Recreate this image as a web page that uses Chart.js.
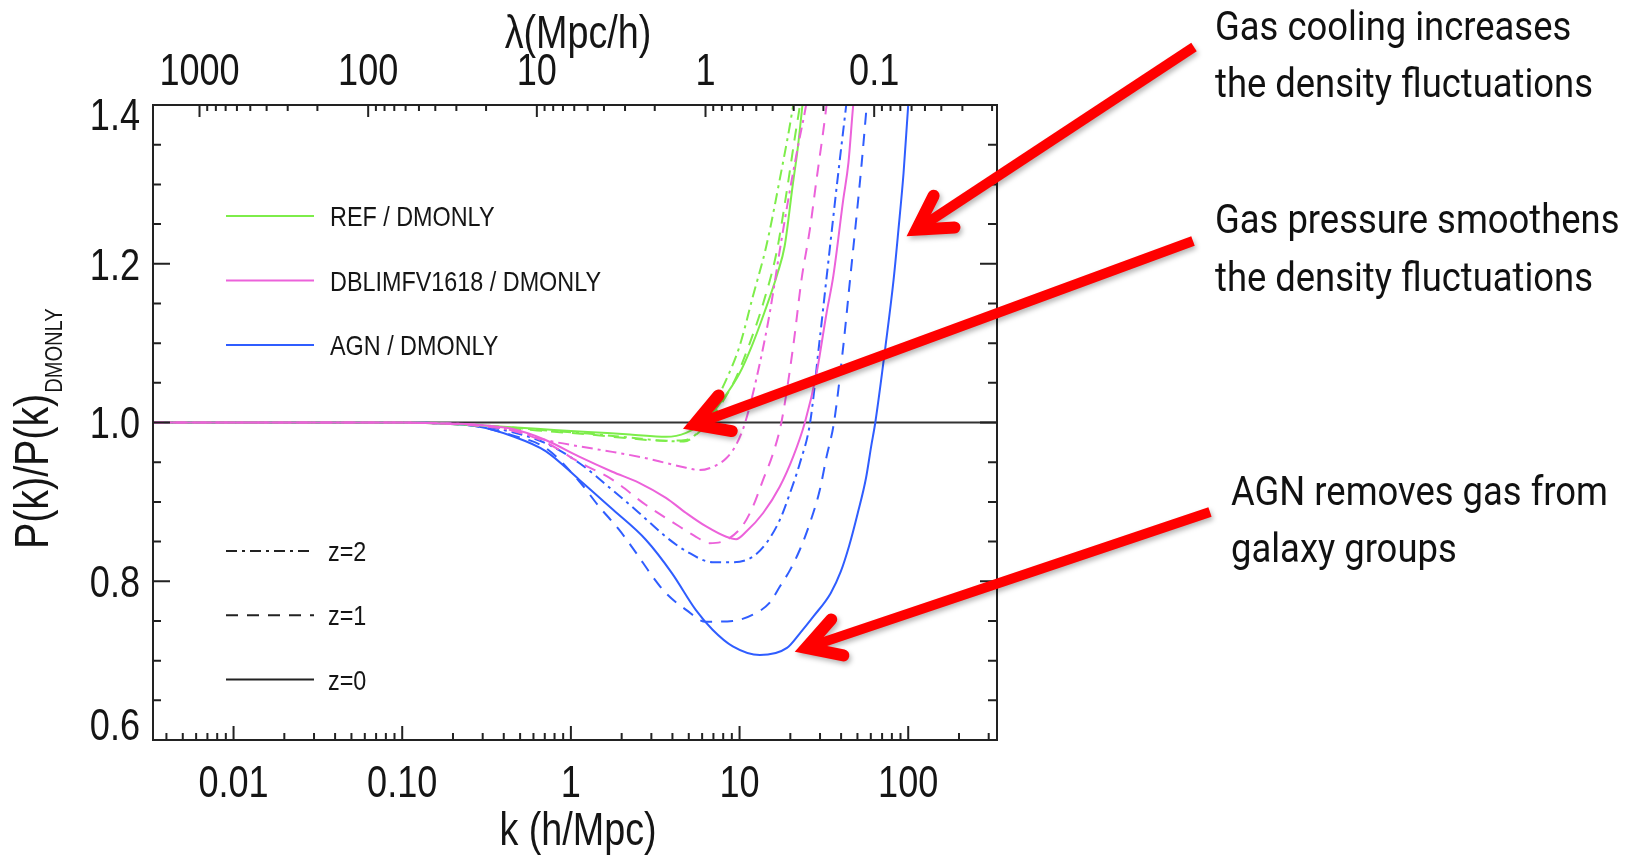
<!DOCTYPE html>
<html>
<head>
<meta charset="utf-8">
<title>P(k)/P(k) DMONLY</title>
<script src="https://cdn.jsdelivr.net/npm/chart.js@4.4.1/dist/chart.umd.min.js"></script>
<style>
  html, body { margin: 0; padding: 0; background: #ffffff; }
  canvas { display: block; }
</style>
</head>
<body>
<canvas id="pk" width="1629" height="859"></canvas>
<script>
// ---- power-spectrum ratios, k in h/Mpc ----
const kRefZ0 = [0.0033, 0.1, 0.158, 0.316, 0.631, 1.26, 2.24, 3.66, 4.82, 6.34, 7.96, 10.0, 11.8, 14.0, 16.8, 18.5, 20.6, 22.2, 23.6, 25.0];
const ratioRefZ0 = [1.000, 1.000, 0.999, 0.996, 0.992, 0.988, 0.985, 0.982, 0.987, 1.003, 1.029, 1.062, 1.096, 1.138, 1.188, 1.222, 1.297, 1.348, 1.400, 1.450];
const kRefZ1 = [0.0033, 0.1, 0.158, 0.316, 0.631, 1.26, 2.24, 3.55, 4.79, 6.03, 7.59, 9.45, 11.5, 13.8, 16.6, 19.0, 21.3, 22.8, 24.4];
const ratioRefZ1 = [1.000, 1.000, 0.999, 0.995, 0.990, 0.985, 0.980, 0.977, 0.978, 0.992, 1.020, 1.055, 1.100, 1.150, 1.215, 1.290, 1.360, 1.400, 1.450];
const kRefZ2 = [0.0033, 0.1, 0.158, 0.316, 0.631, 1.26, 2.24, 3.55, 4.68, 5.75, 6.93, 8.34, 10.0, 12.0, 14.4, 17.3, 20.8, 22.4];
const ratioRefZ2 = [1.000, 1.000, 0.999, 0.996, 0.991, 0.986, 0.981, 0.977, 0.976, 0.990, 1.020, 1.054, 1.096, 1.159, 1.222, 1.306, 1.400, 1.450];

const kDblZ0 = [0.0033, 0.0316, 0.1, 0.158, 0.282, 0.447, 0.708, 1.12, 1.76, 2.54, 3.66, 4.82, 6.34, 8.34, 9.55, 11.0, 13.8, 17.3, 20.8, 24.4, 28.6, 32.8, 36.0, 41.2, 44.2, 47.2, 50.1];
const ratioDblZ0 = [1.000, 1.000, 1.000, 0.999, 0.997, 0.992, 0.978, 0.957, 0.938, 0.924, 0.905, 0.886, 0.869, 0.856, 0.853, 0.863, 0.886, 0.919, 0.957, 1.000, 1.062, 1.138, 1.185, 1.281, 1.327, 1.400, 1.450];
const kDblZ1 = [0.0033, 0.0316, 0.1, 0.158, 0.282, 0.447, 0.708, 1.12, 1.76, 2.79, 4.40, 5.52, 6.62, 8.34, 10.5, 12.0, 13.8, 15.8, 17.7, 20.8, 23.3, 26.1, 28.6, 32.8, 34.7];
const ratioDblZ1 = [1.000, 1.000, 1.000, 0.999, 0.996, 0.990, 0.975, 0.950, 0.928, 0.896, 0.869, 0.856, 0.848, 0.852, 0.871, 0.894, 0.928, 0.961, 1.000, 1.096, 1.180, 1.243, 1.306, 1.400, 1.450];
const kDblZ2 = [0.0033, 0.0316, 0.1, 0.158, 0.282, 0.447, 0.708, 1.12, 1.76, 2.79, 3.66, 4.82, 5.78, 6.93, 8.34, 9.55, 10.8, 13.2, 15.1, 17.2, 19.6, 22.3, 24.8, 26.9];
const ratioDblZ2 = [1.000, 1.000, 1.000, 0.999, 0.997, 0.990, 0.978, 0.970, 0.963, 0.955, 0.949, 0.943, 0.940, 0.944, 0.955, 0.972, 1.000, 1.075, 1.138, 1.213, 1.285, 1.350, 1.400, 1.450];

const kAgnZ0 = [0.0033, 0.0316, 0.1, 0.158, 0.282, 0.447, 0.708, 1.12, 1.78, 2.79, 3.98, 5.50, 6.92, 9.12, 13.2, 19.1, 22.9, 27.5, 34.7, 39.8, 44.7, 50.1, 56.2, 60.3, 63.8, 73.3, 81.9, 87.5, 93.8, 100, 107];
const ratioAgnZ0 = [1.000, 1.000, 1.000, 0.999, 0.995, 0.983, 0.964, 0.928, 0.890, 0.852, 0.810, 0.764, 0.739, 0.718, 0.707, 0.716, 0.735, 0.756, 0.785, 0.812, 0.845, 0.885, 0.930, 0.970, 1.000, 1.096, 1.180, 1.243, 1.314, 1.400, 1.480];
const kAgnZ1 = [0.0033, 0.0316, 0.1, 0.158, 0.282, 0.447, 0.708, 1.12, 1.47, 1.93, 2.43, 3.05, 3.66, 4.82, 6.31, 9.12, 12.0, 15.1, 17.3, 19.9, 22.8, 26.1, 29.9, 32.8, 36.3, 41.2, 45.2, 49.6, 53.0, 56.8, 60.3];
const ratioAgnZ1 = [1.000, 1.000, 1.000, 0.999, 0.995, 0.984, 0.968, 0.926, 0.894, 0.865, 0.836, 0.806, 0.785, 0.764, 0.749, 0.750, 0.758, 0.773, 0.793, 0.814, 0.840, 0.873, 0.915, 0.957, 1.000, 1.096, 1.180, 1.264, 1.327, 1.400, 1.460];
const kAgnZ2 = [0.0033, 0.0316, 0.1, 0.158, 0.282, 0.447, 0.708, 1.12, 1.76, 2.54, 3.66, 4.82, 6.93, 9.12, 12.0, 14.4, 17.3, 19.9, 22.8, 26.2, 29.7, 33.5, 37.8, 42.9, 45.7];
const ratioAgnZ2 = [1.000, 1.000, 1.000, 0.999, 0.996, 0.988, 0.974, 0.949, 0.915, 0.886, 0.856, 0.838, 0.824, 0.824, 0.831, 0.848, 0.877, 0.911, 0.949, 1.000, 1.100, 1.200, 1.300, 1.400, 1.450];

// ---- legend entries ----
const modelLabels = ['REF / DMONLY', 'DBLIMFV1618 / DMONLY', 'AGN / DMONLY'];
const redshiftLabels = ['z=2', 'z=1', 'z=0'];

// ---- axis ticks ----
const kMajorTicks = [0.01, 0.1, 1, 10, 100];
const kTickLabels = ['0.01', '0.10', '1', '10', '100'];
const lambdaMajorTicks = [1000, 100, 10, 1, 0.1];
const lambdaTickLabels = ['1000', '100', '10', '1', '0.1'];
const ratioMajorTicks = [0.6, 0.8, 1.0, 1.2, 1.4];
const ratioTickLabels = ['0.6', '0.8', '1.0', '1.2', '1.4'];

// ---- annotations ----
const notes = [
  { lines: ['Gas cooling increases', 'the density fluctuations'], text: [1215, 40, 57], tail: [1194, 47], tipK: 100, tipRatio: 1.236 },
  { lines: ['Gas pressure smoothens', 'the density fluctuations'], text: [1215, 233, 58], tail: [1193, 241], tipK: 4.74, tipRatio: 0.993 },
  { lines: ['AGN removes gas from', 'galaxy groups'], text: [1231, 505, 57], tail: [1210, 512], tipK: 21.8, tipRatio: 0.712 }
];

// ---- styling ----
const K_MIN = 0.00333, K_MAX = 336;
const modelColors = ['#7ded4a', '#ec62da', '#2f5dff'];
const redshiftDashes = [[11, 5, 3, 5], [12, 9], []];
const AXIS_FONT = "'Liberation Sans', Arial, sans-serif";
const NOTE_FONT = "Roboto, 'Liberation Sans', sans-serif";
const SQUEEZE = 0.82;
const INK = '#151515';

const curves = [
  [kRefZ2, ratioRefZ2, 0, 0], [kRefZ1, ratioRefZ1, 0, 1], [kRefZ0, ratioRefZ0, 0, 2],
  [kDblZ2, ratioDblZ2, 1, 0], [kDblZ1, ratioDblZ1, 1, 1], [kDblZ0, ratioDblZ0, 1, 2],
  [kAgnZ2, ratioAgnZ2, 2, 0], [kAgnZ1, ratioAgnZ1, 2, 1], [kAgnZ0, ratioAgnZ0, 2, 2]
];
const drawOrder = [2, 1, 3]; // magenta on top, then green, then blue

const datasets = curves.map(([ks, rs, m, z]) => ({
  label: modelLabels[m] + ' ' + redshiftLabels[z],
  data: ks.map((k, i) => ({ x: k, y: rs[i] })),
  borderColor: modelColors[m],
  borderWidth: 2,
  borderDash: redshiftDashes[z],
  pointRadius: 0,
  fill: false,
  cubicInterpolationMode: 'monotone',
  order: drawOrder[m],
  clip: 0
}));
datasets.push({
  label: 'unity',
  data: [{ x: K_MIN, y: 1 }, { x: K_MAX, y: 1 }],
  borderColor: '#333333',
  borderWidth: 2,
  pointRadius: 0,
  fill: false,
  order: 10,
  clip: 0
});

function logTicks(min, max, majors) {
  const out = [];
  for (let e = Math.floor(Math.log10(min)) - 1; e <= Math.ceil(Math.log10(max)); e++) {
    for (let m = 1; m <= 9; m++) {
      const v = m * Math.pow(10, e);
      if (v >= min * 0.9999 && v <= max * 1.0001) {
        out.push({ value: v, major: majors.some(t => Math.abs(t - v) / t < 1e-6) });
      }
    }
  }
  return out;
}

function labelFor(value, majors, labels) {
  const i = majors.findIndex(t => Math.abs(t - value) / Math.abs(t) < 1e-6);
  return i < 0 ? '' : labels[i];
}

function drawText(ctx, text, x, y, size, opts = {}) {
  const family = opts.family || AXIS_FONT;
  const squeeze = opts.squeeze || SQUEEZE;
  ctx.save();
  ctx.font = size + 'px ' + family;
  ctx.fillStyle = opts.color || INK;
  ctx.textAlign = 'left';
  ctx.textBaseline = 'alphabetic';
  const w = ctx.measureText(text).width * squeeze;
  let x0 = x;
  if (opts.align === 'center') x0 = x - w / 2;
  else if (opts.align === 'right') x0 = x - w;
  ctx.translate(x0, y);
  ctx.scale(squeeze, 1);
  ctx.fillText(text, 0, 0);
  ctx.restore();
  return w;
}

function drawArrow(ctx, tail, tip) {
  const dx = tail[0] - tip[0], dy = tail[1] - tip[1];
  const len = Math.hypot(dx, dy);
  const ux = dx / len, uy = dy / len;
  const ang = Math.atan2(uy, ux);
  const vx = tip[0] + ux * 10, vy = tip[1] + uy * 10;
  const spread = 30 * Math.PI / 180, arm = 38;
  const a1 = [vx + Math.cos(ang + spread) * arm, vy + Math.sin(ang + spread) * arm];
  const a2 = [vx + Math.cos(ang - spread) * arm, vy + Math.sin(ang - spread) * arm];
  const paint = (color, ox, oy) => {
    ctx.strokeStyle = color;
    ctx.lineWidth = 10; ctx.lineCap = 'butt';
    ctx.beginPath();
    ctx.moveTo(tail[0] + ox, tail[1] + oy);
    ctx.lineTo(vx + ux * 4 + ox, vy + uy * 4 + oy);
    ctx.stroke();
    ctx.lineWidth = 12; ctx.lineCap = 'round'; ctx.lineJoin = 'miter';
    ctx.beginPath();
    ctx.moveTo(a1[0] + ox, a1[1] + oy);
    ctx.lineTo(vx + ox, vy + oy);
    ctx.lineTo(a2[0] + ox, a2[1] + oy);
    ctx.stroke();
  };
  ctx.save();
  ctx.filter = 'blur(2.5px)';
  paint('rgba(0,0,0,0.28)', 2, 3);
  ctx.restore();
  ctx.save();
  paint('#ff0000', 0, 0);
  ctx.restore();
}

const decorations = {
  id: 'decorations',
  afterDraw(chart) {
    const ctx = chart.ctx;
    const { left, right, top, bottom } = chart.chartArea;
    const xs = chart.scales.x, ls = chart.scales.lambda, ys = chart.scales.y;

    // frame
    ctx.save();
    ctx.strokeStyle = '#222222';
    ctx.lineWidth = 2;
    ctx.strokeRect(left, top, right - left, bottom - top);

    // tick marks (inward)
    ctx.beginPath();
    xs.ticks.forEach(t => {
      const px = xs.getPixelForValue(t.value);
      const l = t.major ? 14 : 7;
      ctx.moveTo(px, bottom); ctx.lineTo(px, bottom - l);
    });
    ls.ticks.forEach(t => {
      const px = ls.getPixelForValue(t.value);
      const l = t.major ? 12 : 6;
      ctx.moveTo(px, top); ctx.lineTo(px, top + l);
    });
    ys.ticks.forEach(t => {
      const py = ys.getPixelForValue(t.value);
      ctx.moveTo(left, py); ctx.lineTo(left + (t.major ? 17 : 8), py);
      ctx.moveTo(right, py); ctx.lineTo(right - (t.major ? 17 : 9), py);
    });
    ctx.stroke();
    ctx.restore();

    // tick labels
    const cap = 0.716 * 44;
    xs.ticks.filter(t => t.major).forEach(t => {
      drawText(ctx, labelFor(t.value, kMajorTicks, kTickLabels), xs.getPixelForValue(t.value), 797, 44, { align: 'center' });
    });
    ls.ticks.filter(t => t.major).forEach(t => {
      drawText(ctx, labelFor(t.value, lambdaMajorTicks, lambdaTickLabels), ls.getPixelForValue(t.value), 85, 44, { align: 'center' });
    });
    ys.ticks.filter(t => t.major).forEach(t => {
      const py = ys.getPixelForValue(t.value);
      const cy = Math.min(Math.max(py, top + 9), bottom - 16);
      drawText(ctx, labelFor(t.value, ratioMajorTicks, ratioTickLabels), left - 13, cy + cap / 2, 44, { align: 'right' });
    });

    // axis titles
    const cx = (left + right) / 2 + 3;
    drawText(ctx, 'k (h/Mpc)', cx, 845, 46, { align: 'center' });
    drawText(ctx, 'λ(Mpc/h)', cx, 48, 46, { align: 'center' });
    ctx.save();
    ctx.translate(48, 549);
    ctx.rotate(-Math.PI / 2);
    const wMain = drawText(ctx, 'P(k)/P(k)', 0, 0, 48);
    drawText(ctx, 'DMONLY', wMain + 1, 14, 24.5);
    ctx.restore();

    // legend: models
    ctx.save();
    ctx.lineWidth = 2;
    modelLabels.forEach((name, i) => {
      const y = 216 + i * 64.5;
      ctx.strokeStyle = modelColors[i];
      ctx.setLineDash([]);
      ctx.beginPath(); ctx.moveTo(226, y); ctx.lineTo(314, y); ctx.stroke();
      drawText(ctx, name, 330, y + 10, 28.5);
    });
    // legend: redshifts
    redshiftLabels.forEach((name, i) => {
      const y = 551 + i * 64.3;
      ctx.strokeStyle = '#222222';
      ctx.setLineDash(redshiftDashes[i]);
      ctx.beginPath(); ctx.moveTo(226, y); ctx.lineTo(314, y); ctx.stroke();
      drawText(ctx, name, 328, y + 10, 28.5);
    });
    ctx.setLineDash([]);
    ctx.restore();

    // annotations with arrows
    ctx.save();
    ctx.font = '41px ' + NOTE_FONT;
    const noteSqueeze = 378 / ctx.measureText('the density fluctuations').width;
    ctx.restore();
    notes.forEach(n => {
      const tip = [xs.getPixelForValue(n.tipK), ys.getPixelForValue(n.tipRatio)];
      drawArrow(ctx, n.tail, tip);
      n.lines.forEach((line, i) => {
        drawText(ctx, line, n.text[0], n.text[1] + i * n.text[2], 41, { family: NOTE_FONT, squeeze: noteSqueeze, color: '#111111' });
      });
    });
  }
};

function build() {
  new Chart(document.getElementById('pk'), {
    type: 'line',
    data: { datasets },
    options: {
      responsive: false,
      animation: false,
      devicePixelRatio: 1,
      layout: { padding: { left: 0, top: 0, bottom: 0, right: 632 } },
      plugins: { legend: { display: false }, tooltip: { enabled: false } },
      events: [],
      scales: {
        x: {
          type: 'logarithmic', position: 'bottom', min: K_MIN, max: K_MAX, bounds: 'data',
          grid: { display: false, drawTicks: false }, border: { display: false },
          ticks: { display: false },
          afterBuildTicks: s => { s.ticks = logTicks(K_MIN, K_MAX, kMajorTicks); },
          afterFit: s => { s.height = 119; }
        },
        lambda: {
          type: 'logarithmic', position: 'top', reverse: true,
          min: 2 * Math.PI / K_MAX, max: 2 * Math.PI / K_MIN, bounds: 'data',
          grid: { display: false, drawTicks: false }, border: { display: false },
          ticks: { display: false },
          afterBuildTicks: s => { s.ticks = logTicks(2 * Math.PI / K_MAX, 2 * Math.PI / K_MIN, lambdaMajorTicks); },
          afterFit: s => { s.height = 105; }
        },
        y: {
          type: 'linear', position: 'left', min: 0.6, max: 1.4,
          grid: { display: false, drawTicks: false }, border: { display: false },
          ticks: { display: false },
          afterBuildTicks: s => {
            const t = [];
            for (let i = 0; i <= 16; i++) {
              const v = Math.round((0.6 + i * 0.05) * 100) / 100;
              t.push({ value: v, major: ratioMajorTicks.some(m => Math.abs(m - v) < 1e-6) });
            }
            s.ticks = t;
          },
          afterFit: s => { s.width = 153; }
        }
      }
    },
    plugins: [decorations]
  });
}

Promise.all([
  document.fonts.load('41px Roboto'),
  document.fonts.load("44px 'Liberation Sans'")
]).then(build, build);
</script>
</body>
</html>
